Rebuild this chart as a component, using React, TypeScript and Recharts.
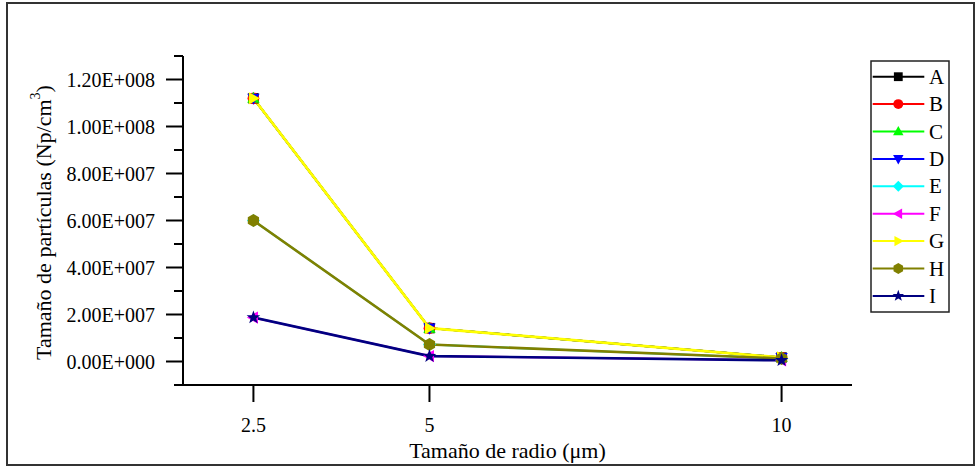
import React from 'react';
import { LineChart, Line, XAxis, YAxis, Legend } from 'recharts';

const radius = [2.5, 5, 10];
const serieA = [1.12e8, 1.42e7, 1.7e6];
const serieB = [1.12e8, 1.42e7, 1.7e6];
const serieC = [1.12e8, 1.42e7, 1.7e6];
const serieD = [1.12e8, 1.42e7, 1.7e6];
const serieE = [6.0e7, 7.2e6, 1.3e6];
const serieF = [1.87e7, 2.3e6, 5.0e5];
const serieG = [1.12e8, 1.42e7, 1.7e6];
const serieH = [6.0e7, 7.2e6, 1.3e6];
const serieI = [1.87e7, 2.3e6, 5.0e5];

const seriesNames = ['A', 'B', 'C', 'D', 'E', 'F', 'G', 'H', 'I'];
const seriesValues = [serieA, serieB, serieC, serieD, serieE, serieF, serieG, serieH, serieI];
const seriesColors = ['#000000', '#ff0000', '#00ff00', '#0000ff', '#00ffff', '#ff00ff', '#ffff00', '#808000', '#000080'];
const seriesShapes = ['square', 'circle', 'up', 'down', 'diamond', 'left', 'right', 'hexagon', 'star'];
const seriesWidths = [2, 2, 2, 2, 2, 2, 2.8, 2.6, 2.6];

const xTicks = [2.5, 5, 10];
const yTicks = [-1e7, 0, 1e7, 2e7, 3e7, 4e7, 5e7, 6e7, 7e7, 8e7, 9e7, 1e8, 1.1e8, 1.2e8, 1.3e8];
const majorYTicks = [0, 2e7, 4e7, 6e7, 8e7, 1e8, 1.2e8];

const data = radius.map((r, i) => {
  const row: Record<string, number> = { r };
  seriesNames.forEach((n, k) => {
    row[n] = seriesValues[k][i];
  });
  return row;
});

const FONT = '"Liberation Serif", "Times New Roman", serif';
const txt = { fontFamily: FONT };

function fmtSci(v: number): string {
  if (v === 0) return '0.00E+000';
  const e = Math.floor(Math.log10(Math.abs(v)) + 1e-9);
  const m = v / Math.pow(10, e);
  return m.toFixed(2) + 'E+' + String(e).padStart(3, '0');
}

function Marker({ shape, cx, cy, color, s }: { shape: string; cx: number; cy: number; color: string; s: number }) {
  const p = (pts: number[][]) => pts.map((q) => `${cx + q[0]},${cy + q[1]}`).join(' ');
  switch (shape) {
    case 'square':
      return <rect x={cx - s * 0.8} y={cy - s * 0.8} width={s * 1.6} height={s * 1.6} fill={color} />;
    case 'circle':
      return <circle cx={cx} cy={cy} r={s * 0.9} fill={color} />;
    case 'up':
      return <polygon points={p([[0, -s], [s * 0.95, s * 0.7], [-s * 0.95, s * 0.7]])} fill={color} />;
    case 'down':
      return <polygon points={p([[0, s], [s * 0.95, -s * 0.7], [-s * 0.95, -s * 0.7]])} fill={color} />;
    case 'diamond':
      return <polygon points={p([[0, -s], [s, 0], [0, s], [-s, 0]])} fill={color} />;
    case 'left':
      return <polygon points={p([[-s, 0], [s * 0.7, -s * 0.95], [s * 0.7, s * 0.95]])} fill={color} />;
    case 'right':
      return <polygon points={p([[s, 0], [-s * 0.7, -s * 0.95], [-s * 0.7, s * 0.95]])} fill={color} />;
    case 'hexagon': {
      const pts: number[][] = [];
      for (let k = 0; k < 6; k++) {
        const a = (Math.PI / 180) * (-90 + 60 * k);
        pts.push([s * Math.cos(a), s * Math.sin(a)]);
      }
      return <polygon points={p(pts)} fill={color} />;
    }
    case 'star': {
      const pts: number[][] = [];
      for (let k = 0; k < 10; k++) {
        const a = (Math.PI / 180) * (-90 + 36 * k);
        const rr = k % 2 === 0 ? s * 1.1 : s * 0.45;
        pts.push([rr * Math.cos(a), rr * Math.sin(a)]);
      }
      return <polygon points={p(pts)} fill={color} />;
    }
    default:
      return null;
  }
}

const YTick = (props: any) => {
  const { x, y, payload } = props;
  const v = payload.value;
  const major = majorYTicks.includes(v);
  const ax = x + 11 + 17;
  return (
    <g>
      <line x1={ax} x2={ax - (major ? 17 : 9)} y1={y} y2={y} stroke="#000" strokeWidth={2} />
      {major && (
        <text x={x} y={y} textAnchor="end" dominantBaseline="central" style={txt} fontSize={20} fill="#000">
          {fmtSci(v)}
        </text>
      )}
    </g>
  );
};

const XTick = (props: any) => {
  const { x, y, payload } = props;
  const ay = y - 17 - 8;
  return (
    <g>
      <line x1={x} x2={x} y1={ay} y2={ay + 17} stroke="#000" strokeWidth={2} />
      <text x={x} y={ay + 40} textAnchor="middle" dominantBaseline="central" style={txt} fontSize={20} fill="#000">
        {String(payload.value)}
      </text>
    </g>
  );
};

const YTitle = (props: any) => {
  const vb = props.viewBox;
  const cx = vb.x + 43;
  const cy = vb.y + vb.height / 2 + 2;
  return (
    <text
      x={cx}
      y={cy}
      transform={`rotate(-90 ${cx} ${cy})`}
      textAnchor="middle"
      dominantBaseline="central"
      style={txt}
      fontSize={22}
      fill="#000"
    >
      <tspan>Tamaño de partículas (Np/cm</tspan>
      <tspan dy={-8} fontSize={14}>3</tspan>
      <tspan dy={8}>)</tspan>
    </text>
  );
};

const XTitle = (props: any) => {
  const vb = props.viewBox;
  return (
    <text
      x={vb.x + vb.width / 2 - 10}
      y={vb.y + 65}
      textAnchor="middle"
      dominantBaseline="central"
      style={txt}
      fontSize={22}
      fill="#000"
    >
      Tamaño de radio (μm)
    </text>
  );
};

const renderLegend = (props: any) => {
  const items = props.payload || [];
  return (
    <svg width={80} height={254} style={{ display: 'block' }}>
      <rect x={1} y={1} width={78} height={251} fill="#fff" stroke="#222" strokeWidth={1.5} />
      {items.map((it: any, i: number) => {
        const idx = seriesNames.indexOf(String(it.value));
        const color = seriesColors[idx];
        const cy = 16.7 + i * 27.4;
        return (
          <g key={String(it.value)}>
            <line x1={2.7} x2={54.3} y1={cy} y2={cy} stroke={color} strokeWidth={2} />
            <Marker shape={seriesShapes[idx]} cx={28.3} cy={cy} color={color} s={5.5} />
            <text x={59} y={cy} dominantBaseline="central" style={txt} fontSize={21} fill="#000">
              {String(it.value)}
            </text>
          </g>
        );
      })}
    </svg>
  );
};

export default function App() {
  return (
    <div style={{ position: 'absolute', left: 0, top: 0, width: 979, height: 468, background: '#fff', fontFamily: FONT }}>
      <div
        style={{
          position: 'absolute',
          left: 6,
          top: 2,
          width: 969,
          height: 464,
          border: '2px solid #333',
          boxSizing: 'border-box',
        }}
      />
      <LineChart width={979} height={468} data={data} margin={{ top: 56, right: 127, bottom: 0, left: 0 }}>
        <XAxis
          dataKey="r"
          type="number"
          domain={[1.5, 11]}
          ticks={xTicks}
          allowDataOverflow
          height={83}
          tickSize={17}
          tickMargin={8}
          tickLine={false}
          axisLine={{ stroke: '#000', strokeWidth: 2 }}
          tick={<XTick />}
          label={{ content: <XTitle /> }}
        />
        <YAxis
          type="number"
          domain={[-1e7, 1.3e8]}
          ticks={yTicks}
          allowDataOverflow
          width={183}
          tickSize={17}
          tickMargin={11}
          tickLine={false}
          interval={0}
          axisLine={{ stroke: '#000', strokeWidth: 2 }}
          tick={<YTick />}
          label={{ content: <YTitle /> }}
        />
        <Legend
          layout="vertical"
          align="center"
          verticalAlign="middle"
          content={renderLegend}
          wrapperStyle={{ position: 'absolute', left: 870, top: 60, width: 80, height: 254 }}
        />
        {seriesNames.map((n, k) => (
          <Line
            key={n}
            dataKey={n}
            name={n}
            stroke={seriesColors[k]}
            strokeWidth={seriesWidths[k]}
            isAnimationActive={false}
            dot={(p: any) => (
              <Marker key={`${n}-${p.index}`} shape={seriesShapes[k]} cx={p.cx} cy={p.cy} color={seriesColors[k]} s={6.5} />
            )}
            activeDot={false}
          />
        ))}
      </LineChart>
    </div>
  );
}
